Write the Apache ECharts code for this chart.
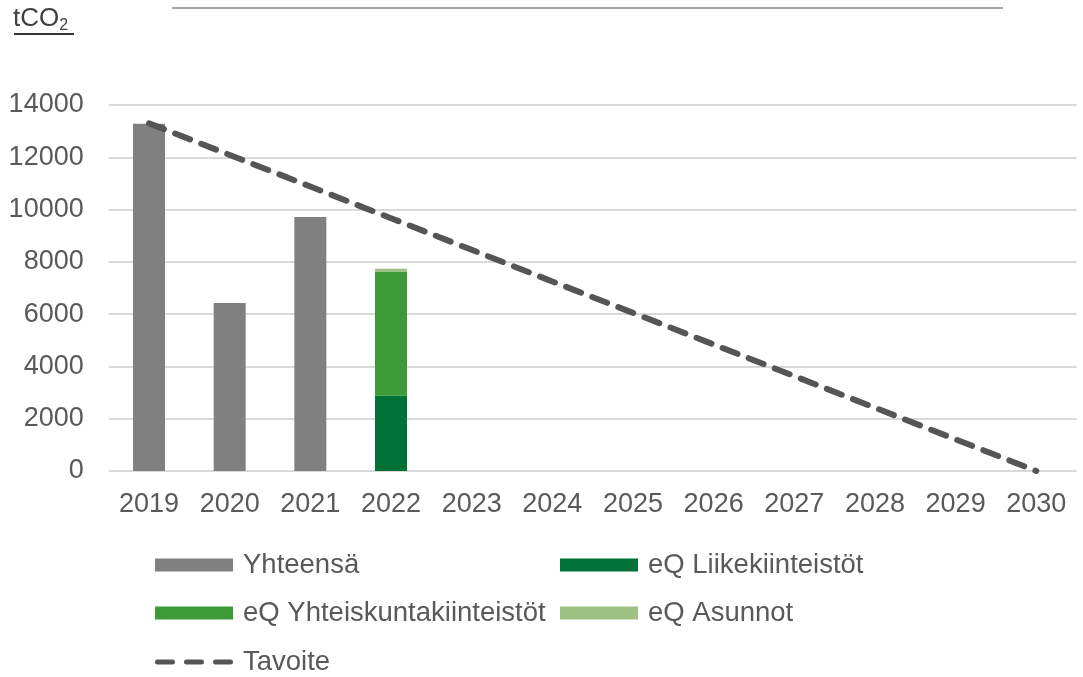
<!DOCTYPE html>
<html>
<head>
<meta charset="utf-8">
<script src="https://cdn.jsdelivr.net/npm/echarts@6/dist/echarts.min.js"></script>
<style>html,body{margin:0;padding:0;background:#fff}#main{width:1083px;height:677px}</style>
</head>
<body>
<div id="main"></div>
<script>
// data
let years = ['2019','2020','2021','2022','2023','2024','2025','2026','2027','2028','2029','2030']
let yhteensa = [13280, 6430, 9720, null, null, null, null, null, null, null, null, null]
let liike = [null, null, null, 2880, null, null, null, null, null, null, null, null]
let yhteiskunta = [null, null, null, 4750, null, null, null, null, null, null, null, null]
let asunnot = [null, null, null, 110, null, null, null, null, null, null, null, null]
let tavoite = [13300, 12090, 10880, 9670, 8460, 7250, 6050, 4840, 3630, 2420, 1210, 0]
let yTicks = [0, 14000, 2000]   // min, max, interval

let txt = '#595959'
let font = 'Liberation Sans, Arial, sans-serif'
let dashIcon = 'path://M2.5,4h15a2.5,2.5 0 0 1 0,5h-15a2.5,2.5 0 0 1 0,-5z' +
  'M31.5,4h15a2.5,2.5 0 0 1 0,5h-15a2.5,2.5 0 0 1 0,-5z' +
  'M60.5,4h15a2.5,2.5 0 0 1 0,5h-15a2.5,2.5 0 0 1 0,-5z'

// one legend per slot so the two columns line up
function legendAt(name, left, top, icon){
  let item = icon ? {name: name, icon: icon, itemStyle: {color: '#555555'}} : {name: name, icon: 'rect'}
  return {data: [item], left: left, top: top, padding: 0, itemWidth: 78, itemHeight: 13,
    textStyle: {color: txt, fontSize: 27.5, fontFamily: font, lineHeight: 30, padding: [0,0,0,5]}, selectedMode: false}
}

let myChart = echarts.init(document.getElementById('main'))
let option = {
  animation: false,
  textStyle: {fontFamily: font},
  grid: {left: 108.7, right: 6.4, top: 105, bottom: 206, containLabel: false},
  graphic: [
    {type: 'line', shape: {x1: 172, y1: 8, x2: 1003, y2: 8}, style: {stroke: '#a6a6a6', lineWidth: 2}},
    {type: 'text', left: 13, top: 6, style: {text: '{a|tCO}{b|2}', rich: {
      a: {fontSize: 26, fill: '#404040', fontFamily: font},
      b: {fontSize: 16, fill: '#404040', fontFamily: font, verticalAlign: 'bottom', padding: [14,0,0,0]}}}},
    {type: 'line', shape: {x1: 14, y1: 34, x2: 74, y2: 34}, style: {stroke: '#333', lineWidth: 2}}
  ],
  legend: [
    legendAt('Yhteensä', 155, 550),
    legendAt('eQ Liikekiinteistöt', 560, 550),
    legendAt('eQ Yhteiskuntakiinteistöt', 155, 598),
    legendAt('eQ Asunnot', 560, 598),
    legendAt('Tavoite', 155, 647, dashIcon)
  ],
  xAxis: {type: 'category', data: years,
    axisLine: {show: false}, axisTick: {show: false},
    axisLabel: {color: txt, fontSize: 27, margin: 20, interval: 0}},
  yAxis: {type: 'value', min: yTicks[0], max: yTicks[1], interval: yTicks[2],
    axisLine: {show: false}, axisTick: {show: false},
    axisLabel: {color: txt, fontSize: 27, margin: 25, formatter: v => String(v)},
    splitLine: {lineStyle: {color: '#d9d9d9', width: 2}}},
  series: [
    {name: 'Yhteensä', type: 'bar', stack: 'a', data: yhteensa, barWidth: 32, itemStyle: {color: '#808080'}},
    {name: 'eQ Liikekiinteistöt', type: 'bar', stack: 'a', data: liike, barWidth: 32, itemStyle: {color: '#007236'}},
    {name: 'eQ Yhteiskuntakiinteistöt', type: 'bar', stack: 'a', data: yhteiskunta, barWidth: 32, itemStyle: {color: '#3c9b37'}},
    {name: 'eQ Asunnot', type: 'bar', stack: 'a', data: asunnot, barWidth: 32, itemStyle: {color: '#9cc183'}},
    {name: 'Tavoite', type: 'line', data: tavoite, symbol: 'none', z: 5,
      itemStyle: {color: '#555555'},
      lineStyle: {color: '#555555', width: 6, type: [16, 12], cap: 'round'}}
  ]
}
myChart.setOption(option)
</script>
</body>
</html>
